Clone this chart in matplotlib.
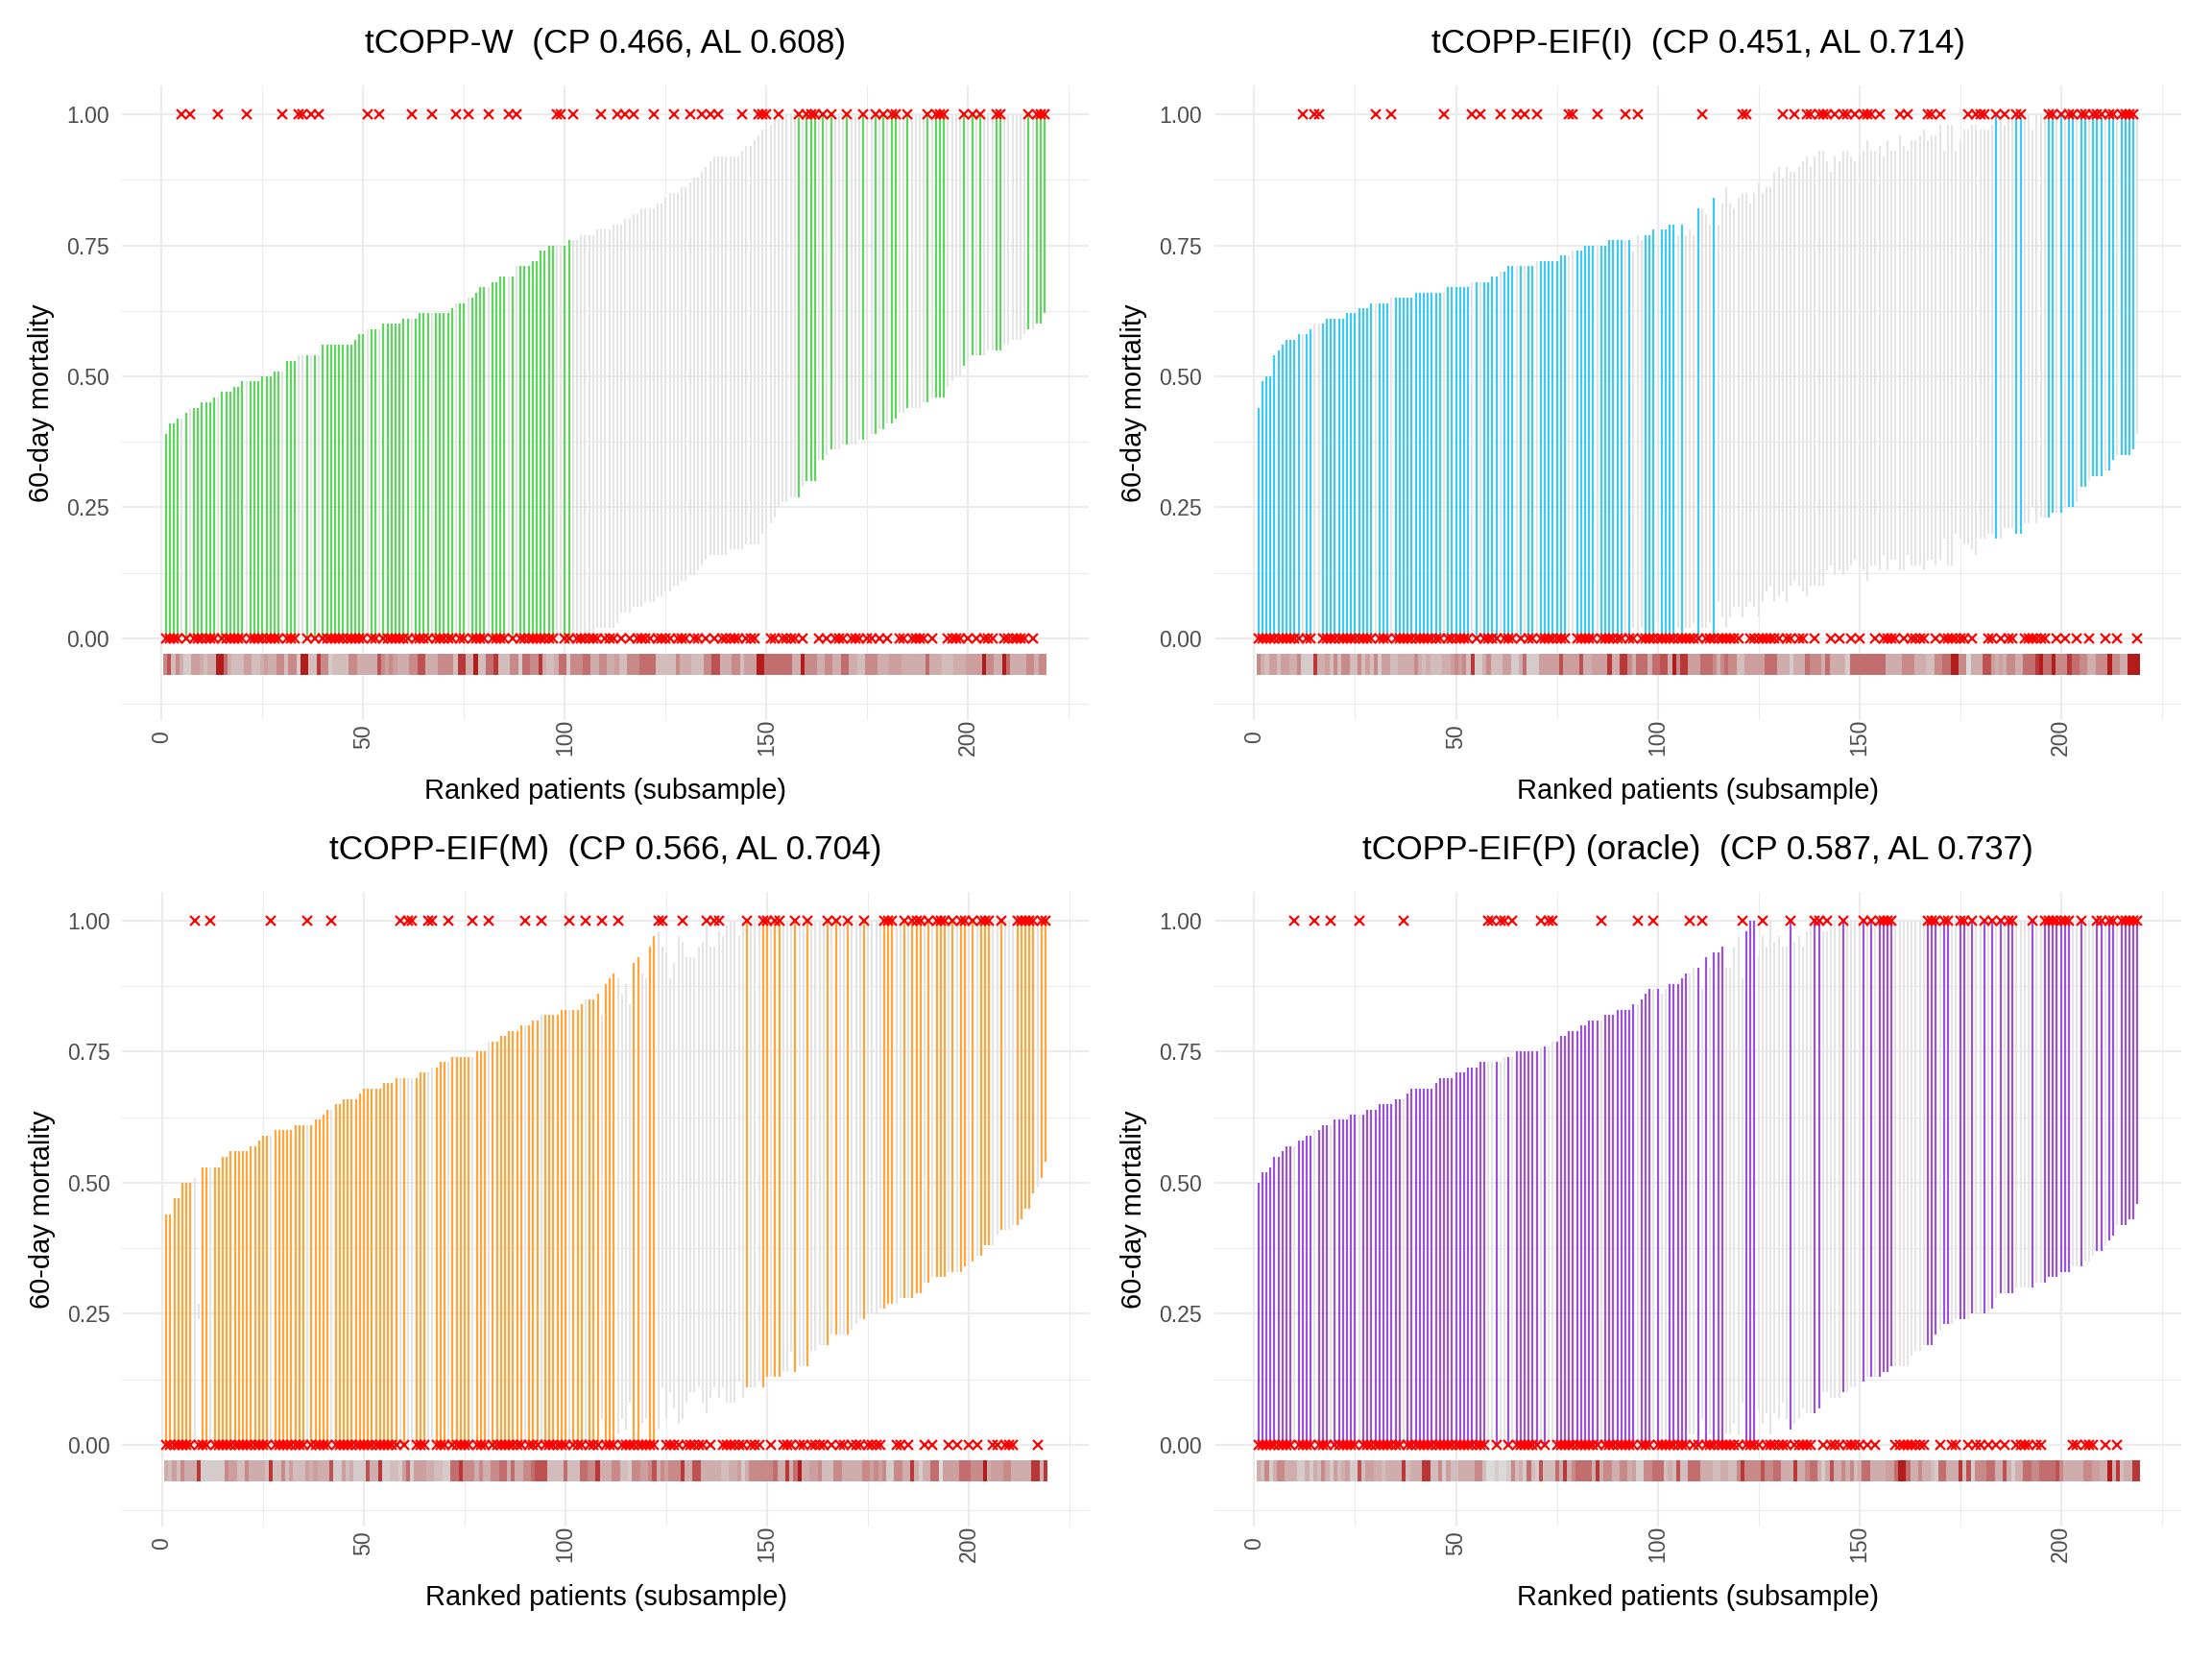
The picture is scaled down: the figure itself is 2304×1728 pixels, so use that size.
import numpy as np
import matplotlib.pyplot as plt
from matplotlib.colors import LinearSegmentedColormap

plt.rcParams['font.family'] = ['Liberation Sans', 'DejaVu Sans']

# ---------------------------------------------------------------
# data: 219 ranked patients per method, interval bounds in percent
# ---------------------------------------------------------------
N = 219

titles = ["tCOPP-W  (CP 0.466, AL 0.608)",
          "tCOPP-EIF(I)  (CP 0.451, AL 0.714)",
          "tCOPP-EIF(M)  (CP 0.566, AL 0.704)",
          "tCOPP-EIF(P) (oracle)  (CP 0.587, AL 0.737)"]
colors = ['#5CD65C', '#3DC9F5', '#FFA53B', '#9A52DB']

# --- tCOPP-W ---
hi_W = [39, 41, 41, 42, 42, 43, 44, 44, 44, 45,
        45, 45, 46, 46, 47, 47, 47, 48, 48, 49,
        49, 49, 49, 49, 50, 50, 50, 51, 51, 51,
        53, 53, 53, 54, 54, 54, 54, 54, 54, 56,
        56, 56, 56, 56, 56, 56, 56, 57, 58, 58,
        59, 59, 59, 59, 60, 60, 60, 60, 60, 61,
        61, 61, 61, 62, 62, 62, 62, 62, 62, 62,
        62, 63, 64, 64, 64, 65, 65, 66, 67, 67,
        67, 68, 68, 69, 69, 69, 69, 71, 71, 71,
        71, 72, 72, 74, 74, 75, 75, 75, 75, 75,
        76, 76, 76, 77, 77, 77, 77, 78, 78, 78,
        78, 79, 79, 79, 80, 80, 81, 81, 82, 82,
        82, 82, 83, 83, 84, 85, 85, 85, 86, 86,
        87, 88, 88, 89, 90, 91, 92, 92, 92, 92,
        92, 92, 92, 93, 94, 94, 95, 96, 97, 97,
        98, 99, 99, 100] + [100] * 65
lo_W = [0] * 101 + [
        0, 1, 1, 1, 1, 1, 2, 2, 2,
        2, 2, 3, 5, 5, 5, 6, 6, 6, 7,
        7, 7, 8, 8, 9, 9, 10, 10, 11, 11,
        12, 12, 13, 14, 15, 16, 16, 16, 16, 16,
        17, 17, 17, 17, 18, 18, 18, 18, 20, 21,
        22, 23, 25, 26, 26, 27, 27, 27, 29, 30,
        30, 30, 34, 34, 35, 36, 36, 36, 37, 37,
        37, 37, 38, 38, 38, 39, 39, 40, 40, 41,
        41, 42, 43, 43, 44, 44, 44, 44, 45, 45,
        46, 46, 46, 46, 48, 49, 50, 50, 52, 53,
        54, 54, 54, 54, 55, 55, 55, 55, 56, 56,
        57, 57, 57, 58, 59, 59, 60, 60, 62]
deaths_W = [5, 7, 14, 21, 30, 34, 35, 37, 39, 51, 54, 62, 67, 73, 76, 81, 86,
            88, 98, 99, 102, 109, 113, 115, 117, 122, 127, 131, 134, 136, 138,
            144, 148, 149, 150, 153, 158, 160, 161, 162, 164, 166, 170, 174,
            177, 179, 181, 182, 185, 190, 192, 193, 194, 199, 201, 203, 207,
            208, 215, 217, 218, 219]
strip_W = ("5725311443 2339963222 4422343355 2551992285 5122225533 3337545433 "
           "3557733355 5528833922 6682225516 6558322366 1555663355 3342255566 "
           "6622222533 3222557733 3552444996 6666663395 5533553366 3322555333 "
           "4443333336 3332223334 4449553396 333355355")

# --- tCOPP-EIF(I) ---
hi_I = [44, 49, 50, 50, 54, 55, 56, 57, 57, 57,
        58, 58, 58, 59, 60, 60, 60, 61, 61, 61,
        61, 61, 62, 62, 62, 63, 63, 63, 64, 64,
        64, 64, 64, 65, 65, 65, 65, 65, 65, 66,
        66, 66, 66, 66, 66, 66, 66, 67, 67, 67,
        67, 67, 67, 68, 68, 68, 68, 68, 69, 69,
        70, 70, 71, 71, 71, 71, 71, 71, 71, 72,
        72, 72, 72, 72, 72, 73, 73, 73, 74, 74,
        74, 75, 75, 75, 75, 75, 75, 76, 76, 76,
        76, 76, 76, 74, 77, 76, 77, 77, 78, 75,
        78, 78, 79, 79, 77, 79, 77, 78, 77, 82,
        82, 81, 79, 84, 79, 83, 86, 83, 82, 84,
        85, 85, 83, 85, 87, 85, 86, 86, 89, 90,
        88, 90, 89, 89, 90, 91, 92, 90, 92, 93,
        93, 91, 89, 92, 91, 93, 93, 92, 91, 92,
        93, 95, 93, 93, 94, 92, 95, 93, 93, 96,
        94, 93, 95, 95, 96, 97, 95, 96, 96, 98,
        93, 98, 98, 93, 95, 97, 97, 98, 98, 97,
        97, 97, 98, 100, 100, 98, 100, 100, 100, 100,
        100, 100, 97] + [100] * 26
lo_I = [0] * 93 + [
        2, 0, 2, 0, 0, 0, 3,
        0, 0, 0, 0, 2, 0, 2, 2, 3, 0,
        2, 2, 3, 0, 7, 4, 2, 4, 6, 6,
        4, 6, 7, 6, 4, 7, 9, 10, 7, 8,
        9, 7, 10, 11, 10, 9, 8, 10, 10, 10,
        10, 13, 14, 12, 13, 12, 13, 14, 15, 14,
        13, 11, 14, 14, 13, 16, 13, 15, 15, 13,
        13, 16, 14, 14, 14, 13, 15, 15, 14, 15,
        19, 14, 14, 20, 19, 18, 18, 17, 16, 19,
        19, 20, 20, 19, 19, 21, 21, 21, 20, 20,
        22, 22, 25, 22, 23, 23, 23, 24, 24, 24,
        25, 25, 25, 26, 29, 29, 30, 31, 31, 31,
        32, 32, 34, 35, 35, 35, 35, 36, 39]
deaths_I = [12, 15, 16, 30, 34, 47, 54, 56, 61, 65, 67, 70, 78, 79, 85, 92, 95,
            111, 121, 122, 131, 134, 137, 138, 140, 141, 142, 144, 146, 147,
            149, 151, 152, 153, 155, 160, 162, 167, 168, 170, 177, 179, 180,
            181, 184, 186, 189, 190, 197, 198, 200, 202, 203, 205, 206, 208,
            209, 210, 212, 213, 215, 216, 217, 218]
strip_I = ("5324424433 5111833425 2552252425 1442233335 3232223345 4528113522 "
           "2441136111 4444474444 7334444833 8853666366 7739588444 6665356552 "
           "2444446663 3313336555 3633331666 6666663333 5553332255 6699550333 "
           "7743435533 6668966955 5866553355 595533999")

# --- tCOPP-EIF(M) ---
hi_M = [44, 44, 47, 47, 50, 50, 50, 51, 27, 53,
        53, 53, 53, 53, 55, 55, 56, 56, 56, 56,
        56, 57, 57, 58, 59, 59, 59, 60, 60, 60,
        60, 60, 61, 61, 61, 61, 61, 62, 62, 63,
        64, 64, 65, 65, 66, 66, 66, 66, 67, 68,
        68, 68, 68, 68, 69, 69, 69, 70, 70, 70,
        70, 70, 70, 71, 71, 71, 72, 72, 73, 73,
        73, 74, 74, 74, 74, 74, 74, 75, 75, 75,
        77, 77, 77, 78, 78, 79, 79, 79, 80, 80,
        80, 81, 81, 82, 82, 82, 82, 82, 83, 83,
        83, 83, 83, 84, 85, 85, 85, 86, 82, 88,
        89, 90, 89, 86, 88, 84, 92, 93, 90, 89,
        95, 97, 98, 95, 94, 89, 92, 97, 96, 93,
        93, 93, 95, 96, 99, 95, 95, 98, 97, 99,
        100, 100, 97, 100] + [100] * 75
lo_M = [0] * 8 + [24] + [0] * 99 + [
        5, 0,
        0, 0, 2, 5, 3, 8, 0, 0, 4, 5,
        0, 0, 3, 11, 5, 10, 7, 4, 5, 8,
        10, 10, 11, 8, 6, 9, 11, 9, 11, 8,
        8, 8, 12, 9, 11, 11, 11, 12, 11, 13,
        13, 13, 13, 14, 14, 18, 14, 15, 15, 15,
        18, 18, 19, 19, 19, 21, 21, 21, 21, 21,
        22, 23, 24, 24, 25, 25, 25, 26, 26, 27,
        27, 27, 28, 28, 28, 28, 29, 29, 31, 31,
        32, 32, 32, 32, 33, 33, 33, 33, 34, 34,
        35, 36, 36, 38, 38, 38, 40, 41, 41, 41,
        42, 42, 43, 45, 45, 48, 49, 51, 54]
deaths_M = [8, 12, 27, 36, 42, 59, 61, 62, 66, 67, 71, 77, 81, 90, 94, 101, 105,
            109, 113, 123, 124, 129, 135, 137, 138, 145, 149, 150, 152, 153,
            157, 160, 165, 167, 170, 174, 179, 180, 181, 184, 186, 187, 188,
            190, 192, 193, 194, 196, 198, 199, 201, 203, 204, 205, 208, 212,
            213, 214, 215, 216, 218, 219]
strip_M = ("3242533381 1111154422 5333328225 2422243433 3711423111 7338112214 "
           "6144433221 1668555353 3556636335 5677722226 2226655833 3552215544 "
           "5735455583 3773333322 3341355555 5633836933 4452225533 3335545451 "
           "1553383133 6604444666 5559344455 333338838")

# --- tCOPP-EIF(P) (oracle) ---
hi_P = [50, 52, 52, 53, 55, 55, 56, 57, 57, 57,
        58, 58, 59, 59, 60, 60, 61, 61, 61, 62,
        62, 62, 62, 63, 63, 63, 63, 64, 64, 64,
        65, 65, 65, 65, 66, 66, 66, 67, 68, 68,
        68, 68, 68, 68, 69, 70, 70, 70, 70, 71,
        71, 71, 72, 72, 72, 73, 73, 73, 73, 73,
        73, 74, 74, 74, 75, 75, 75, 75, 75, 75,
        76, 76, 76, 77, 77, 78, 78, 79, 79, 79,
        80, 80, 81, 81, 81, 81, 82, 82, 82, 83,
        83, 83, 83, 84, 84, 85, 86, 87, 87, 87,
        86, 87, 88, 88, 88, 89, 90, 90, 91, 91,
        87, 93, 91, 94, 94, 95, 91, 91, 95, 97,
        89, 98, 100, 100, 93, 97, 95, 100, 96, 97,
        95, 95, 100, 96, 97, 95, 98, 99, 100, 100,
        98, 98, 99, 100, 100, 100] + [100] * 73
lo_P = [0] * 100 + [
        1, 1, 0, 0, 0, 0, 0, 2, 2, 0,
        5, 0, 2, 0, 0, 0, 2, 2, 4, 2,
        8, 0, 0, 0, 7, 4, 6, 2, 6, 5,
        8, 5, 3, 4, 5, 7, 6, 6, 6, 7,
        10, 10, 9, 9, 9, 10, 10, 11, 11, 12,
        12, 13, 13, 13, 13, 14, 14, 15, 15, 15,
        15, 15, 17, 18, 18, 19, 19, 19, 21, 22,
        23, 23, 23, 24, 24, 24, 24, 25, 25, 25,
        25, 25, 26, 28, 29, 29, 29, 29, 30, 30,
        30, 30, 30, 31, 31, 31, 32, 32, 32, 33,
        33, 33, 34, 34, 34, 35, 35, 36, 37, 37,
        38, 39, 40, 42, 42, 42, 43, 43, 46]
deaths_P = [10, 15, 19, 26, 37, 58, 59, 61, 62, 64, 71, 73, 74, 86, 95, 99, 108,
            111, 121, 126, 133, 139, 140, 142, 146, 151, 153, 155, 156, 157,
            158, 167, 168, 169, 171, 172, 175, 176, 178, 181, 183, 185, 187,
            188, 193, 196, 197, 198, 199, 200, 201, 202, 205, 209, 210, 212,
            213, 215, 216, 217, 218, 219]
strip_P = ("3251355333 1131325314 2341172443 3233338233 3882251422 3333552001 "
           "0015231621 7222638356 6663835533 5534115566 6232722666 3332233225 "
           "8555575566 3338335663 1373353523 6633334469 9633533216 6333827155 "
           "5663373133 6655666675 3333355443 393823388")

panels = [(hi_W, lo_W, deaths_W, strip_W),
          (hi_I, lo_I, deaths_I, strip_I),
          (hi_M, lo_M, deaths_M, strip_M),
          (hi_P, lo_P, deaths_P, strip_P)]

# ---------------------------------------------------------------
# figure
# ---------------------------------------------------------------
fig = plt.figure(figsize=(16, 12), dpi=144)
boxes = [[0.0550, 0.5662, 0.4372, 0.3823],
         [0.5490, 0.5662, 0.4372, 0.3823],
         [0.0553, 0.0801, 0.4372, 0.3823],
         [0.5490, 0.0801, 0.4372, 0.3823]]

strip_cmap = LinearSegmentedColormap.from_list(
    'strip', ['#dadada', '#cb9797', '#b41c1c'])
GRID = '#EBEBEB'
BAR_GREY = '#E4E4E4'

for k, (hi, lo, deaths, strip) in enumerate(panels):
    hi = np.array(hi) / 100.0
    lo = np.array(lo) / 100.0
    strip_vals = np.array([int(c) for c in strip.replace(" ", "")])
    assert len(hi) == N and len(lo) == N and len(strip_vals) == N, k

    idx = np.arange(1, N + 1)
    y = np.zeros(N)
    y[np.array(deaths) - 1] = 1.0
    covered = (lo <= y) & (y <= hi)

    ax = fig.add_axes(boxes[k])

    ax.vlines(idx[~covered], lo[~covered], hi[~covered], colors=BAR_GREY,
              linewidth=1.05, zorder=2)
    ax.vlines(idx[covered], lo[covered], hi[covered], colors=colors[k],
              linewidth=1.1, zorder=3)

    ax.plot(idx, y, linestyle='none', marker='x', color='#FF0000',
            markersize=4.8, markeredgewidth=1.1, zorder=4)

    ax.imshow(strip_vals[None, :], cmap=strip_cmap, vmin=0, vmax=9,
              extent=(0.5, N + 0.5, -0.07, -0.03), aspect='auto',
              interpolation='nearest', zorder=2)

    ax.set_xlim(-9.9, 229.9)
    ax.set_ylim(-0.155, 1.055)

    ax.set_xticks([0, 50, 100, 150, 200])
    ax.set_xticks([25, 75, 125, 175, 225], minor=True)
    ax.set_yticks([0, 0.25, 0.5, 0.75, 1.0])
    ax.set_yticks([-0.125, 0.125, 0.375, 0.625, 0.875], minor=True)
    ax.set_yticklabels(['0.00', '0.25', '0.50', '0.75', '1.00'])
    ax.grid(which='major', color=GRID, linewidth=1.07, zorder=0)
    ax.grid(which='minor', color=GRID, linewidth=0.55, zorder=0)
    ax.set_axisbelow(True)
    for s in ax.spines.values():
        s.set_visible(False)

    ax.tick_params(which='both', length=0)
    ax.tick_params(axis='y', labelsize=11.5, labelcolor='#4D4D4D', pad=6.5)
    ax.tick_params(axis='x', labelsize=11.5, labelcolor='#4D4D4D', pad=9)
    for lab in ax.get_xticklabels():
        lab.set_rotation(90)
        lab.set_va('center')
        lab.set_ha('center')

    ax.set_xlabel('Ranked patients (subsample)', fontsize=14.5)
    ax.xaxis.set_label_coords(0.5, -0.112)
    ax.xaxis.label.set_va('center')
    ax.set_ylabel('60-day mortality', fontsize=14.5)
    ax.yaxis.set_label_coords(-0.083, 0.5)
    ax.yaxis.label.set_va('center')

    ax.text(0.5, 1.066, titles[k], transform=ax.transAxes, ha='center',
            va='center', fontsize=17.6)

fig.savefig('out.png', dpi=144, facecolor='white')
